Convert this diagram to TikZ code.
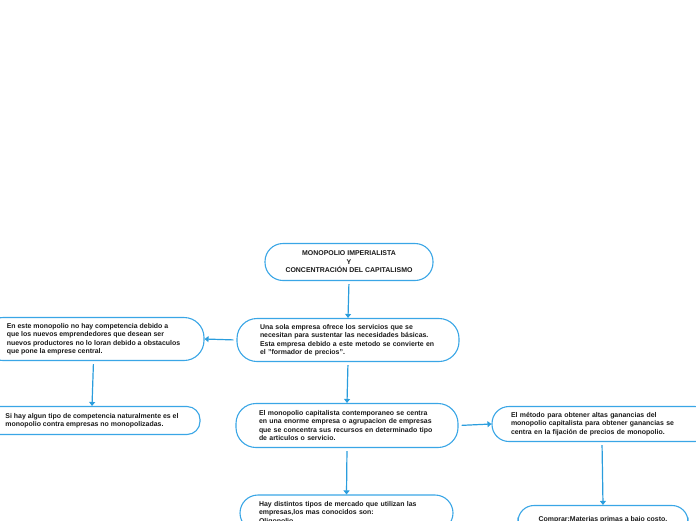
\documentclass[tikz,border=0pt]{standalone}
\usepackage{fontspec}
\setmainfont{Liberation Sans}
\usetikzlibrary{arrows.meta}
\definecolor{edgec}{HTML}{3AA6E6}
\definecolor{arrowc}{HTML}{2A9DDD}
\begin{document}
\begin{tikzpicture}[x=1pt,y=-1pt,
  box/.style={draw=edgec, line width=1.1pt, fill=white, rounded corners=#1, inner sep=0pt,
    align=left, text=black!90, font=\fontsize{6.95}{8.4}\selectfont\bfseries},
  conn/.style={draw=arrowc, line width=1.2pt, -{Triangle[length=4pt,width=6pt]}, shorten <=3pt}]
\useasboundingbox (0,0) rectangle (696,520);
\clip (0,0) rectangle (696,520);
\node[box=18pt, minimum width=168pt, minimum height=37pt, align=center] (top) at (349,262)
  {MONOPOLIO IMPERIALISTA\\Y\\CONCENTRACIÓN DEL CAPITALISMO};
\node[box=20pt, minimum width=222pt, minimum height=43pt, text width=176pt] (A) at (348,340)
  {Una sola empresa ofrece los servicios que se\\necesitan para sustentar las necesidades básicas.\\Esta empresa debido a este metodo se convierte en\\el "formador de precios".};
\node[box=20pt, minimum width=221pt, minimum height=43pt] (L1) at (93.5,339)
  {En este monopolio no hay competencia debido a\\que los nuevos emprendedores que desean ser\\nuevos productores no lo loran debido a obstaculos\\que pone la emprese central.};
\node[box=13pt, minimum width=216pt, minimum height=28pt] (L2) at (92,420.5)
  {Si hay algun tipo de competencia naturalmente es el\\monopolio contra empresas no monopolizadas.};
\node[box=20pt, minimum width=222pt, minimum height=44pt, text width=176pt] (B) at (347,425.5)
  {El monopolio capitalista contemporaneo se centra\\en una enorme empresa o agrupacion de empresas\\que se concentra sus recursos en determinado tipo\\de articulos o servicio.};
\node[box=17pt, minimum width=220pt, minimum height=35pt, text width=182pt] (R) at (602,424)
  {El método para obtener altas ganancias del\\monopolio capitalista para obtener ganancias se\\centra en la fijación de precios de monopolio.};
\node[box=18pt, minimum width=213pt, minimum height=36pt, text width=175pt] (BC) at (346.5,513)
  {Hay distintos tipos de mercado que utilizan las\\empresas,los mas conocidos son:\\*Oligopolio};
\node[box=16pt, minimum width=170pt, minimum height=28pt, align=center] (BR) at (603,519.5)
  {Comprar:Materias primas a bajo costo.};
\draw[conn] (top.south) -- (A.north);
\draw[conn] (A.west) -- (L1.east);
\draw[conn] (L1.south) -- (L2.north);
\draw[conn] (A.south) -- (B.north);
\draw[conn] (B.east) -- (R.west);
\draw[conn] (B.south) -- (BC.north);
\draw[conn] (R.south) -- (BR.north);
\end{tikzpicture}
\end{document}
